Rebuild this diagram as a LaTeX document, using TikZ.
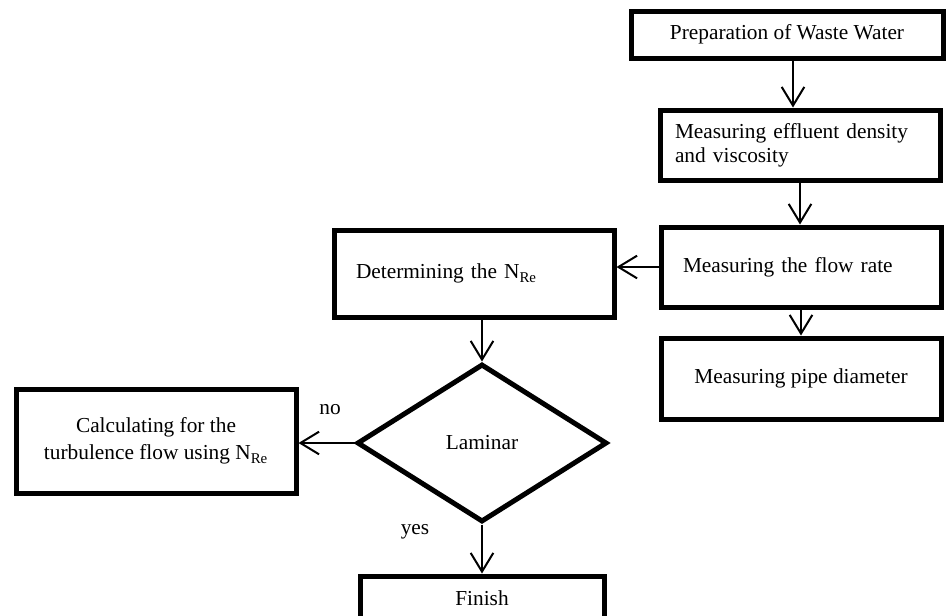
\documentclass[tikz,border=0pt]{standalone}
\usepackage{fontspec}
\setmainfont{Liberation Serif}
\usetikzlibrary{arrows.meta, shapes.geometric, positioning, calc}

\begin{document}
\begin{tikzpicture}[x=0.75pt,y=-0.75pt,
	box/.style={draw,line width=3.75pt,minimum width=210pt,inner sep=0pt,font=\fontsize{16pt}{18pt}\selectfont},
	leftbox/.style={box,align=left,inner xsep=16.5pt,text width=177pt},
	decision/.style={draw,diamond,line width=3.75pt,minimum width=187.5pt,minimum height=118.5pt,inner sep=0pt,font=\fontsize{16pt}{18pt}\selectfont},
	arr/.style={line width=1.5pt,-{Straight Barb[length=14pt,width=17pt,line width=1.5pt]}},
	lbl/.style={inner sep=0pt,font=\fontsize{16pt}{18pt}\selectfont}]
	\useasboundingbox (0,0) rectangle (947,615);
	% right column
	\node[box,minimum width=234pt,minimum height=35.25pt] (prep) at (787,34.5) {Preparation of Waste Water};
	\node[box,align=left,inner xsep=10.5pt,text width=187.5pt,minimum height=52.5pt] (dens) at (800,145) {Measuring effluent density\\and viscosity};
	\node[leftbox,minimum height=60pt] (flow) at (801,267) {Measuring the flow rate};
	\node[box,minimum height=60.75pt] (pipe) at (801,378.5) {Measuring pipe diameter};
	% left part
	\node[leftbox,minimum height=65.25pt] (nre) at (474,273.5) {Determining the N\textsubscript{Re}};
	\node[decision] (lam) at (482,443) {Laminar};
	\node[box,align=center,minimum height=78pt] (calc) at (156,441) {Calculating for the\\[2pt]turbulence flow using N\textsubscript{Re}};
	\node[box,minimum width=183pt,minimum height=33pt] (fin) at (482,598) {Finish};
	\node[lbl] (nolbl) at (330,410) {no};
	\node[lbl] (yeslbl) at (415,532) {yes};
	% connectors
	\draw[arr] ($(prep.south)+(6,0)$) -- ($(prep.south |- dens.north)+(6,0)$);
	\draw[arr] (dens.south) -- (dens.south |- flow.north);
	\draw[arr] (flow.south) -- (flow.south |- pipe.north);
	\draw[arr] (flow.west) -- (flow.west -| nre.east);
	\draw[arr] (lam.north |- nre.south) -- (lam.north);
	\draw[arr] (lam.west) -- (lam.west -| calc.east);
	\draw[arr] (lam.south) -- (lam.south |- fin.north);
\end{tikzpicture}
\end{document}
